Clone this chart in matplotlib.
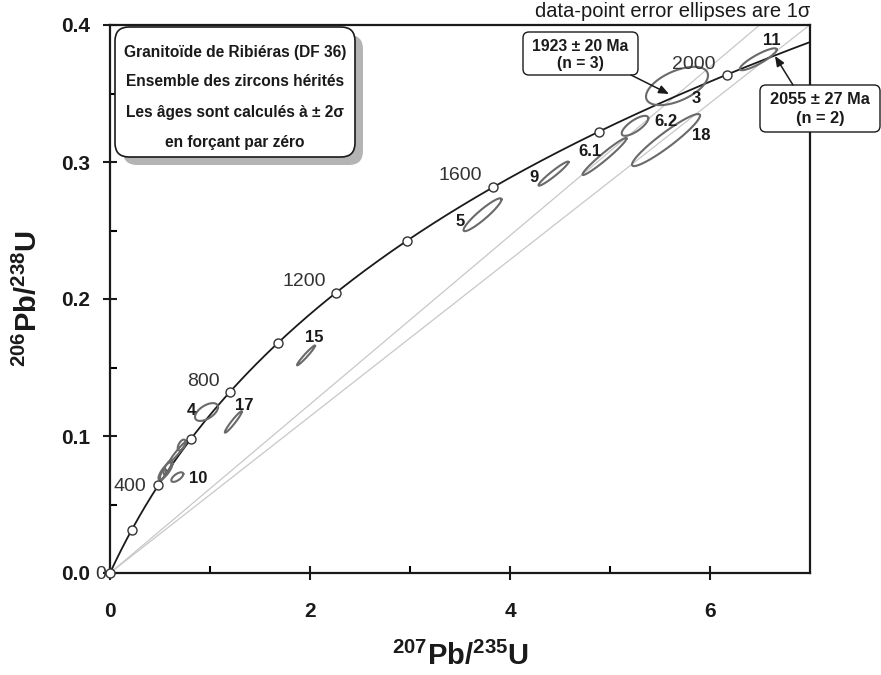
import numpy as np
import matplotlib
matplotlib.use('Agg')
import matplotlib.pyplot as plt
from matplotlib.patches import FancyBboxPatch
from matplotlib.transforms import IdentityTransform

plt.rcParams['font.family'] = ['Liberation Sans', 'DejaVu Sans']
plt.rcParams['mathtext.fontset'] = 'custom'
plt.rcParams['mathtext.rm'] = 'Liberation Sans'
plt.rcParams['mathtext.bf'] = 'Liberation Sans:bold'

# ---------------- data ----------------
L238 = 1.55125e-10
L235 = 9.8485e-10
marker_ages = [0, 200, 400, 600, 800, 1000, 1200, 1400, 1600, 1800, 2000]
label_ages = [400, 800, 1200, 1600, 2000]
chord_ages = [1923, 2055]

spot_ids = ['11', '3', '6.2', '6.1', '18', '9', '5', '15', '17', '4', '10', '', '', '', '', '']
x207 = [6.483, 5.670, 5.250, 4.945, 5.560, 4.435, 3.725, 1.960, 1.233, 0.965, 0.673, 0.555, 0.575, 0.680, 0.717, 0.530]
sx207 = [0.185, 0.310, 0.133, 0.220, 0.340, 0.150, 0.190, 0.090, 0.085, 0.115, 0.060, 0.070, 0.040, 0.085, 0.040, 0.030]
y206 = [0.3750, 0.3555, 0.3264, 0.3040, 0.3160, 0.2915, 0.2615, 0.1588, 0.1102, 0.1175, 0.0700, 0.0745, 0.0770, 0.0885, 0.0934, 0.0720]
sy206 = [0.0080, 0.0140, 0.0073, 0.0135, 0.0190, 0.0088, 0.0120, 0.0072, 0.0078, 0.0065, 0.0035, 0.0065, 0.0050, 0.0075, 0.0040, 0.0040]
rho = [0.88, 0.55, 0.75, 0.97, 0.94, 0.96, 0.93, 0.97, 0.96, 0.55, 0.65, 0.80, 0.75, 0.97, 0.55, 0.65]

# label positions for spot names (data coords)
spot_label_xy = [(6.617, 0.3890), (5.860, 0.3460), (5.557, 0.3294), (4.80, 0.3075), (5.917, 0.3197),
                 (4.243, 0.2885), (3.50, 0.2564), (2.043, 0.1720), (1.343, 0.1225), (0.817, 0.1183),
                 (0.883, 0.0691)]
age_label_xy = [(0.20, 0.0630), (0.933, 0.1396), (1.94, 0.2131), (3.50, 0.2905), (5.840, 0.3715)]

title_lines = ["Granitoïde de Ribiéras (DF 36)",
               "Ensemble des zircons hérités",
               "Les âges sont calculés à ± 2σ",
               "en forçant par zéro"]
box1_lines = ["1923 ± 20 Ma", "(n = 3)"]
box2_lines = ["2055 ± 27 Ma", "(n = 2)"]

# ---------------- figure ----------------
W, H = 881, 675
fig = plt.figure(figsize=(W / 100, H / 100), dpi=100)
ax = fig.add_axes([110 / W, (H - 573) / H, 700 / W, 548 / H])
ax.set_xlim(0, 7)
ax.set_ylim(0, 0.4)

# discordia chords through origin
for a in chord_ages:
    t = a * 1e6
    xs = np.exp(L235 * t) - 1
    ys = np.exp(L238 * t) - 1
    ax.plot([0, 8], [0, 8 * ys / xs], color='#c8c8c8', lw=0.9, zorder=1)

# concordia
tt = np.linspace(0, 2200e6, 600)
ax.plot(np.exp(L235 * tt) - 1, np.exp(L238 * tt) - 1, color='#1a1a1a', lw=1.3, zorder=2)
ma = np.array(marker_ages) * 1e6
ax.plot(np.exp(L235 * ma) - 1, np.exp(L238 * ma) - 1, 'o', ms=6.5, mfc='white', mec='#333333',
        mew=1.0, clip_on=False, zorder=6)

# error ellipses
th = np.linspace(0, 2 * np.pi, 300)
for cx, sx, cy, sy, r in zip(x207, sx207, y206, sy206, rho):
    ex = cx + sx * np.cos(th)
    ey = cy + sy * (r * np.cos(th) + np.sqrt(1 - r * r) * np.sin(th))
    ax.plot(ex, ey, color='#6a6a6a', lw=1.5, zorder=3)

for name, (lx, ly) in zip(spot_ids, spot_label_xy):
    ax.text(lx, ly, name, fontsize=12, fontweight='bold', color='#1a1a1a', ha='center', va='center', zorder=7)

for a, (lx, ly) in zip(label_ages, age_label_xy):
    ax.text(lx, ly, str(a), fontsize=14, color='#333333', ha='center', va='center', zorder=7)
ax.text(-0.09, -0.0012, '0', fontsize=14, color='#333333', ha='center', va='center', clip_on=False, zorder=7)

# axes styling
for s in ax.spines.values():
    s.set_linewidth(1.6)
    s.set_color('#1a1a1a')
ax.set_xticks([0, 2, 4, 6])
ax.set_xticks([1, 3, 5], minor=True)
ax.set_yticks([0.0, 0.1, 0.2, 0.3, 0.4])
ax.set_yticklabels(['0.0', '0.1', '0.2', '0.3', '0.4'])
ax.set_yticks([0.05, 0.15, 0.25, 0.35], minor=True)
ax.tick_params(which='major', direction='inout', length=10, width=1.5, labelsize=15, colors='#1a1a1a')
ax.tick_params(which='minor', direction='in', length=5, width=1.5)
ax.tick_params(axis='x', which='major', pad=16)
ax.tick_params(axis='y', which='major', pad=9)
for lab in ax.get_xticklabels() + ax.get_yticklabels():
    lab.set_fontweight('bold')

ax.set_xlabel(r'$\mathbf{^{207}Pb/^{235}U}$', fontsize=21, color='#1a1a1a')
ax.set_ylabel(r'$\mathbf{^{206}Pb/^{238}U}$', fontsize=21, color='#1a1a1a')
ax.xaxis.set_label_coords(0.5, -0.125)
ax.yaxis.set_label_coords(-0.096, 0.5)

ax.text(1.0, 1.008, 'data-point error ellipses are 1σ', transform=ax.transAxes, fontsize=14.5,
        color='#1a1a1a', ha='right', va='bottom')

ident = IdentityTransform()


def pbox(x0, y0, x1, y1, **kw):
    # pixel coords measured from top-left
    return FancyBboxPatch((x0, H - y1), x1 - x0, y1 - y0, transform=ident, **kw)


# main title box with shadow
fig.add_artist(pbox(123, 35, 363, 165, boxstyle='round,pad=0,rounding_size=14',
                    fc='#b4b4b4', ec='none', zorder=8))
fig.add_artist(pbox(115, 27, 355, 157, boxstyle='round,pad=0,rounding_size=14',
                    fc='white', ec='#1a1a1a', lw=1.2, zorder=9))
for i, line in enumerate(title_lines):
    fig.text(235, H - (52 + 30 * i), line, transform=ident, fontsize=11.2, fontweight='bold',
             color='#1a1a1a', ha='center', va='center', zorder=10)

# result boxes
fig.add_artist(pbox(523, 32, 638, 75, boxstyle='round,pad=0,rounding_size=6',
                    fc='white', ec='#1a1a1a', lw=1.0, zorder=9))
for i, line in enumerate(box1_lines):
    fig.text(580.5, H - (46.5 + 17 * i), line, transform=ident, fontsize=11.3, fontweight='bold',
             color='#1a1a1a', ha='center', va='center', zorder=10)
fig.add_artist(pbox(760, 85, 880, 132, boxstyle='round,pad=0,rounding_size=6',
                    fc='white', ec='#1a1a1a', lw=1.0, zorder=9))
for i, line in enumerate(box2_lines):
    fig.text(820, H - (100 + 18 * i), line, transform=ident, fontsize=11.8, fontweight='bold',
             color='#1a1a1a', ha='center', va='center', zorder=10)

ap = dict(arrowstyle='-|>,head_length=0.6,head_width=0.25', color='#1a1a1a', lw=1.1, shrinkA=0, shrinkB=0)
fig.add_artist(matplotlib.text.Annotation('', xy=(669, H - 94), xytext=(631, H - 75),
                                          xycoords='figure pixels', textcoords='figure pixels',
                                          arrowprops=ap, zorder=10))
fig.add_artist(matplotlib.text.Annotation('', xy=(775, H - 56), xytext=(793, H - 85),
                                          xycoords='figure pixels', textcoords='figure pixels',
                                          arrowprops=ap, zorder=10))

fig.savefig('out.png', dpi=100)
